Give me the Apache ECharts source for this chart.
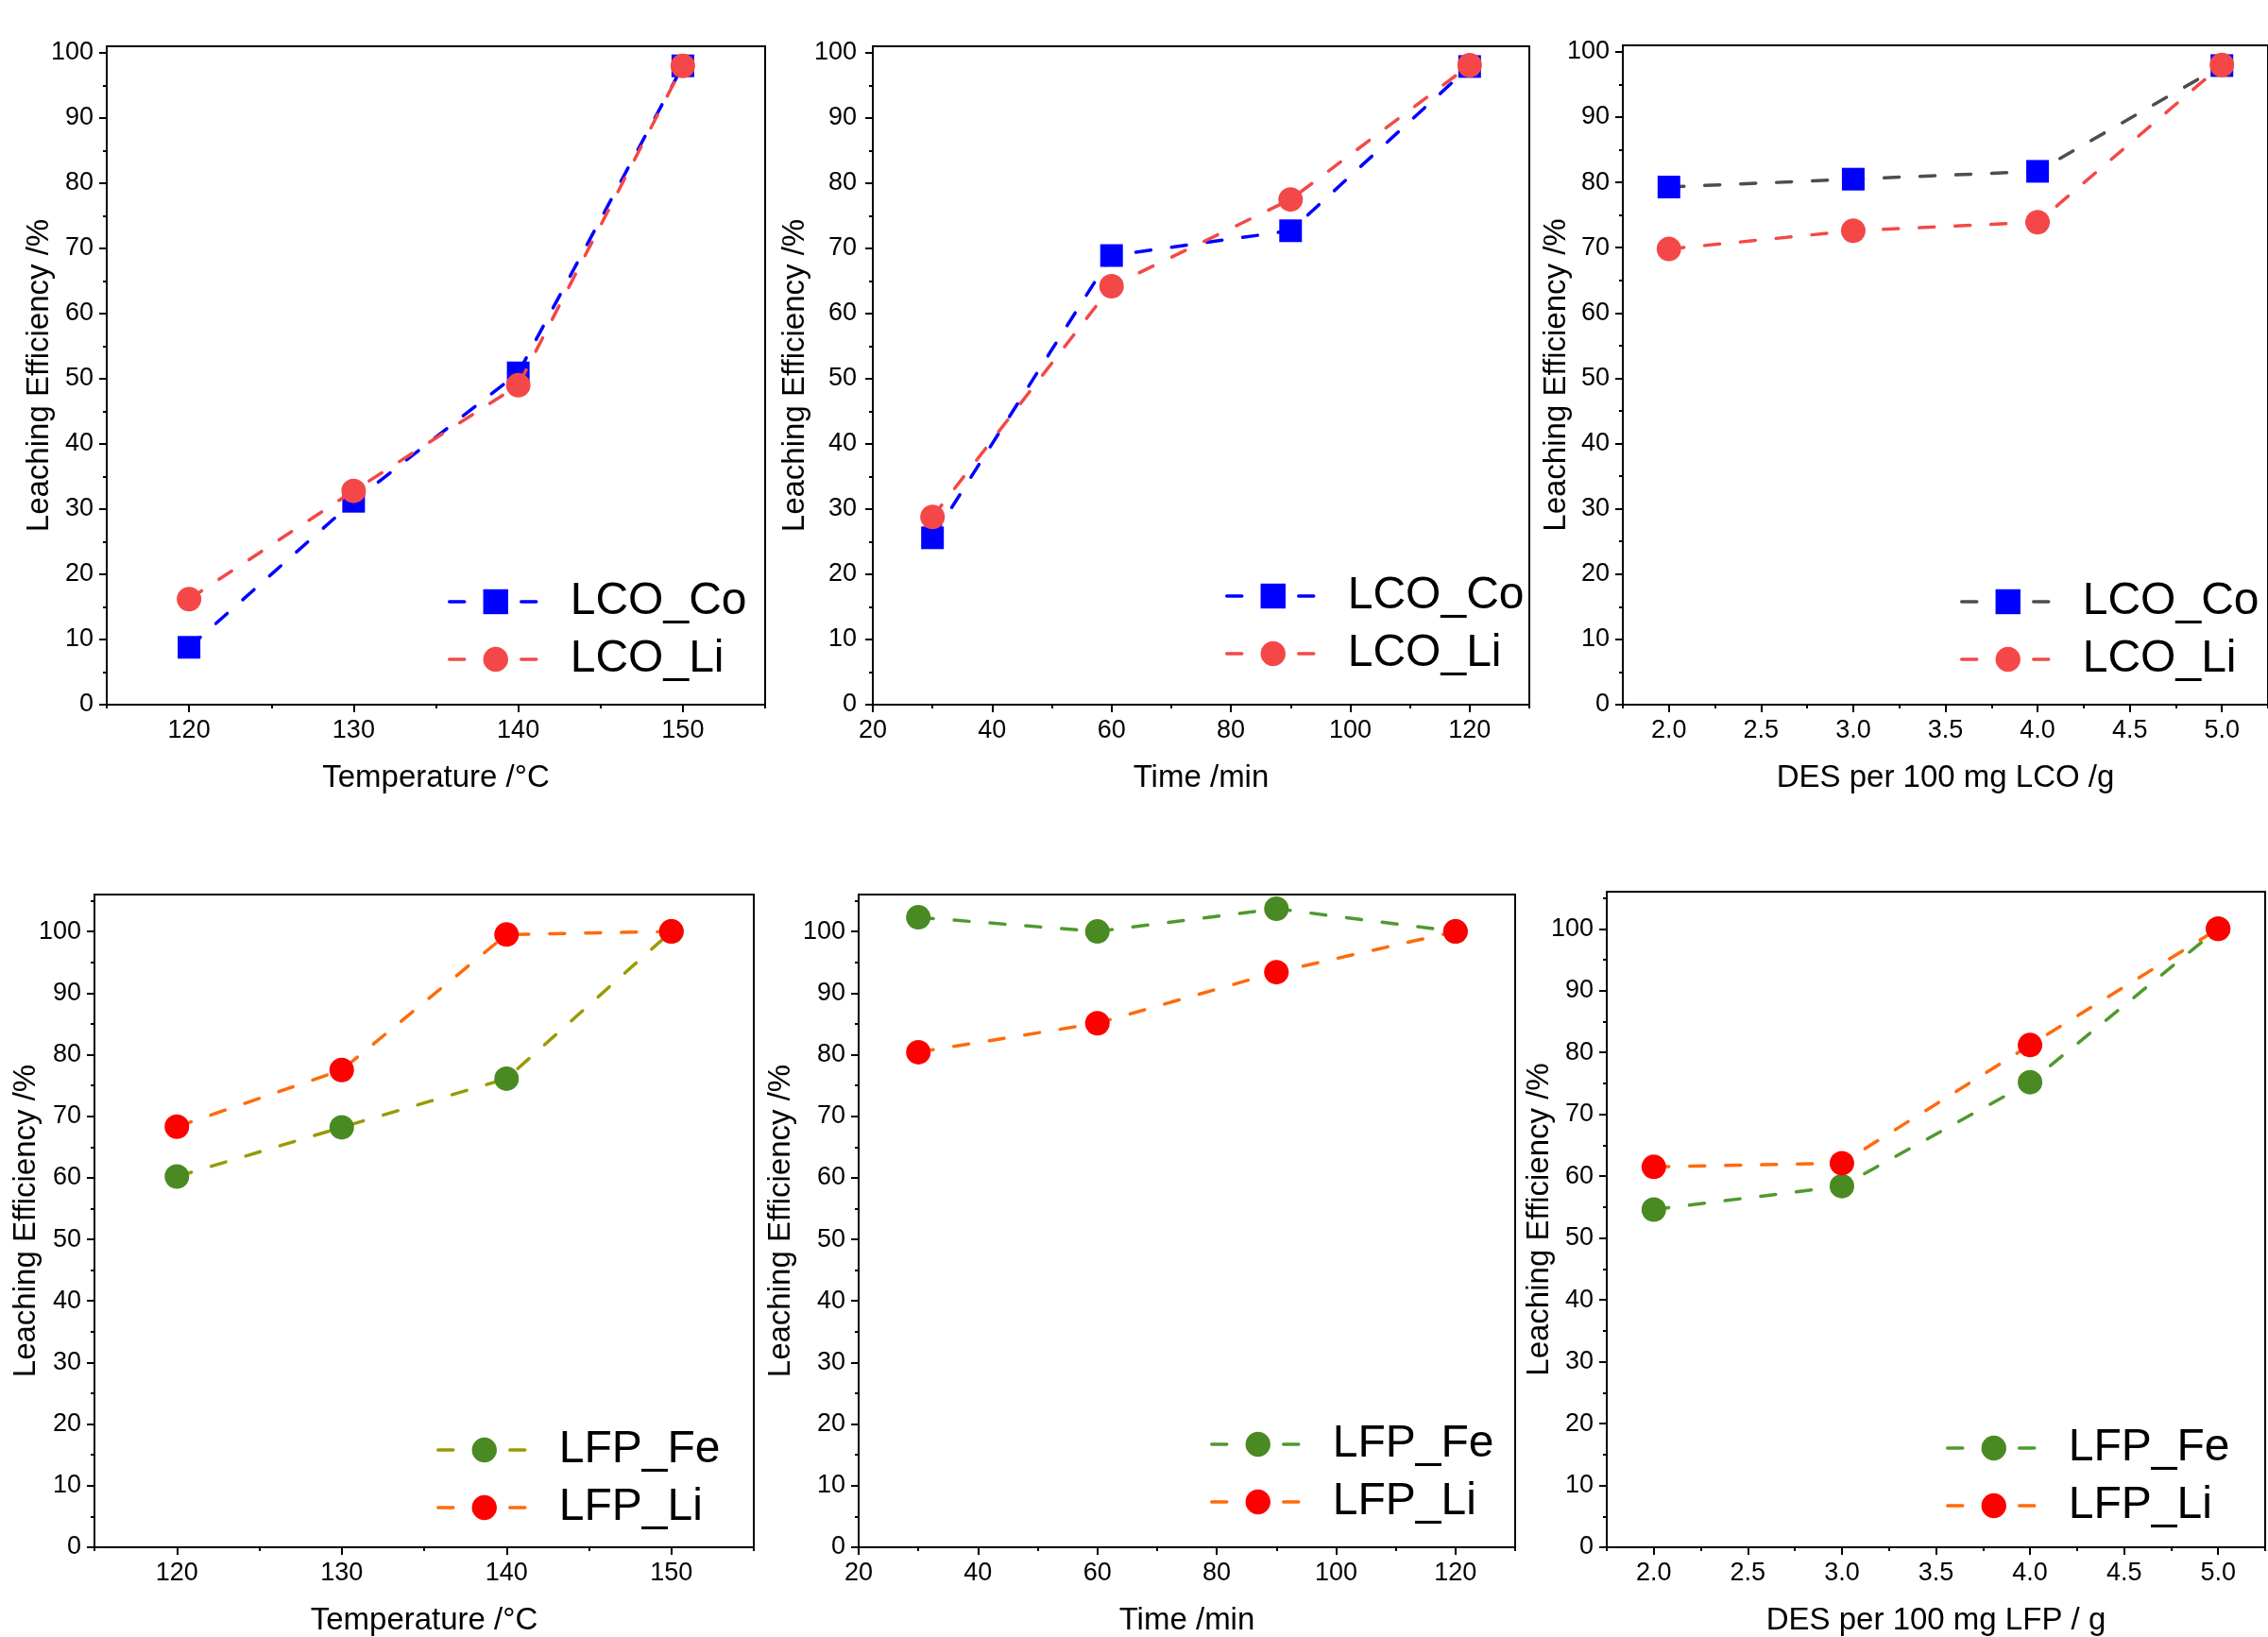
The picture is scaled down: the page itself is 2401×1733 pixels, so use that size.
<!DOCTYPE html>
<html>
<head>
<meta charset="utf-8">
<script src="https://cdn.jsdelivr.net/npm/echarts@6/dist/echarts.min.js"></script>
<style>
html, body { margin: 0; padding: 0; background: #fff; }
#leaching { width: 2401px; height: 1733px; }
</style>
</head>
<body>
<div id="leaching"></div>
<script>
// x values for each condition
var tempX = [120, 130, 140, 150]
var timeX = [30, 60, 90, 120]
var desX = [2, 3, 4, 5]

// leaching efficiency (%)
var lcoCoTemp = [8.8, 31.2, 50.9, 98.0]
var lcoLiTemp = [16.2, 32.8, 49.0, 98.0]
var lcoCoTime = [25.6, 68.9, 72.7, 97.9]
var lcoLiTime = [28.8, 64.2, 77.5, 98.1]
var lcoCoDes = [79.3, 80.5, 81.7, 97.9]
var lcoLiDes = [69.8, 72.6, 73.9, 98.0]
var lfpFeTemp = [60.2, 68.2, 76.1, 100.0]
var lfpLiTemp = [68.3, 77.5, 99.5, 100.0]
var lfpFeTime = [102.3, 100.0, 103.7, 100.0]
var lfpLiTime = [80.4, 85.1, 93.4, 100.0]
var lfpFeDes = [54.6, 58.4, 75.2, 100.0]
var lfpLiDes = [61.5, 62.1, 81.2, 100.0]

// tick values
var yMajor = [0, 10, 20, 30, 40, 50, 60, 70, 80, 90, 100]
var yMinorTop = [5, 15, 25, 35, 45, 55, 65, 75, 85, 95]
var yMinorBottom = [5, 15, 25, 35, 45, 55, 65, 75, 85, 95, 105]
var tempMajor = [120, 130, 140, 150]
var tempMinor = [115, 125, 135, 145, 155]
var timeMajor = [20, 40, 60, 80, 100, 120]
var timeMinor = [30, 50, 70, 90, 110, 130]
var desMajor = [2, 2.5, 3, 3.5, 4, 4.5, 5]
var desMinor = [1.75, 2.25, 2.75, 3.25, 3.75, 4.25, 4.75, 5.25]

var FONT = 'Liberation Sans, Arial, sans-serif'
var yName = 'Leaching Efficiency /%'
var dash = [16, 22]

function pairs (xs, ys) {
  return xs.map(function (x, i) { return [x, ys[i]] })
}

function xAxes (g, min, max, major, minor, name, fmt) {
  return [{
    type: 'value', gridIndex: g, min: min, max: max, position: 'bottom',
    name: name, nameLocation: 'middle', nameGap: 61,
    nameTextStyle: { fontSize: 33, color: '#000', fontFamily: FONT },
    axisLine: { show: true, onZero: false, lineStyle: { color: '#000', width: 2 } },
    axisTick: { show: true, customValues: major, length: 8, lineStyle: { color: '#000', width: 2 } },
    axisLabel: { customValues: major, fontSize: 27, color: '#000', fontFamily: FONT, margin: 14, formatter: fmt },
    splitLine: { show: false }
  }, {
    type: 'value', gridIndex: g, min: min, max: max, position: 'bottom',
    axisLine: { show: false, onZero: false },
    axisTick: { show: true, customValues: minor, length: 4, lineStyle: { color: '#000', width: 2 } },
    axisLabel: { show: false },
    splitLine: { show: false }
  }]
}

function yAxes (g, max, minor, nameGap, margin) {
  return [{
    type: 'value', gridIndex: g, min: 0, max: max, position: 'left',
    name: yName, nameLocation: 'middle', nameGap: nameGap, nameMoveOverlap: false,
    nameTextStyle: { fontSize: 33, color: '#000', fontFamily: FONT },
    axisLine: { show: true, onZero: false, lineStyle: { color: '#000', width: 2 } },
    axisTick: { show: true, customValues: yMajor, length: 8, lineStyle: { color: '#000', width: 2 } },
    axisLabel: { customValues: yMajor, fontSize: 27, color: '#000', fontFamily: FONT, margin: margin },
    splitLine: { show: false }
  }, {
    type: 'value', gridIndex: g, min: 0, max: max, position: 'left',
    axisLine: { show: false, onZero: false },
    axisTick: { show: true, customValues: minor, length: 4, lineStyle: { color: '#000', width: 2 } },
    axisLabel: { show: false },
    splitLine: { show: false }
  }]
}

function line (g, name, data, symbol, size, markerColor, lineColor, z) {
  return {
    type: 'line', name: name + '#' + g,
    xAxisIndex: g * 2, yAxisIndex: g * 2,
    data: data, symbol: symbol, symbolSize: size, clip: false, z: z,
    itemStyle: { color: markerColor, borderWidth: 0 },
    lineStyle: { color: lineColor, width: 3.5, type: dash, cap: 'round' },
    emphasis: { disabled: true }
  }
}

function legend (g, left, top) {
  return {
    orient: 'vertical', left: left, top: top, padding: 0,
    itemWidth: 98, itemHeight: 33, itemGap: 13, selectedMode: false,
    data: series.filter(function (s) { return s.xAxisIndex === g * 2 }).map(function (s) { return s.name }),
    formatter: function (n) { return n.split('#')[0] },
    lineStyle: { width: 3.5 },
    textStyle: { fontSize: 48, lineHeight: 48, color: '#000', fontFamily: FONT, padding: [0, 0, 0, 25] }
  }
}

var grids = [
  { left: 113, top: 49, width: 697, height: 697 },
  { left: 924, top: 49, width: 695, height: 697 },
  { left: 1718, top: 48, width: 696, height: 698 },
  { left: 100, top: 947, width: 698, height: 697 },
  { left: 909, top: 947, width: 695, height: 697 },
  { left: 1701, top: 944, width: 697, height: 698 }
].map(function (g) {
  return Object.assign({ show: true, borderColor: '#000', borderWidth: 2, backgroundColor: 'transparent' }, g)
})

var fix1 = function (v) { return v.toFixed(1) }

var xAxis = [].concat(
  xAxes(0, 115, 155, tempMajor, tempMinor, 'Temperature /°C'),
  xAxes(1, 20, 130, timeMajor, timeMinor, 'Time /min'),
  xAxes(2, 1.75, 5.25, desMajor, desMinor, 'DES per 100 mg LCO /g', fix1),
  xAxes(3, 115, 155, tempMajor, tempMinor, 'Temperature /°C'),
  xAxes(4, 20, 130, timeMajor, timeMinor, 'Time /min'),
  xAxes(5, 1.75, 5.25, desMajor, desMinor, 'DES per 100 mg LFP / g', fix1)
)

var yAxis = [].concat(
  yAxes(0, 101, yMinorTop, 55, 14),
  yAxes(1, 101, yMinorTop, 66, 17),
  yAxes(2, 101, yMinorTop, 54, 14),
  yAxes(3, 106, yMinorBottom, 56, 14),
  yAxes(4, 106, yMinorBottom, 66, 14),
  yAxes(5, 106, yMinorBottom, 55, 14)
)

var blue = '#0000FF'
var lcoRed = '#F44848'
var feGreen = '#4A8A22'
var lfpRed = '#FF0000'
var lfpOrange = '#FF6A0A'

var series = [
  line(0, 'LCO_Co', pairs(tempX, lcoCoTemp), 'rect', 24, blue, blue, 2),
  line(0, 'LCO_Li', pairs(tempX, lcoLiTemp), 'circle', 26, lcoRed, lcoRed, 3),
  line(1, 'LCO_Co', pairs(timeX, lcoCoTime), 'rect', 24, blue, blue, 2),
  line(1, 'LCO_Li', pairs(timeX, lcoLiTime), 'circle', 26, lcoRed, lcoRed, 3),
  line(2, 'LCO_Co', pairs(desX, lcoCoDes), 'rect', 24, blue, '#4D4D4D', 2),
  line(2, 'LCO_Li', pairs(desX, lcoLiDes), 'circle', 26, lcoRed, lcoRed, 3),
  line(3, 'LFP_Fe', pairs(tempX, lfpFeTemp), 'circle', 26, feGreen, '#9A9A00', 2),
  line(3, 'LFP_Li', pairs(tempX, lfpLiTemp), 'circle', 26, lfpRed, lfpOrange, 3),
  line(4, 'LFP_Fe', pairs(timeX, lfpFeTime), 'circle', 26, feGreen, '#4E9A2E', 2),
  line(4, 'LFP_Li', pairs(timeX, lfpLiTime), 'circle', 26, lfpRed, lfpOrange, 3),
  line(5, 'LFP_Fe', pairs(desX, lfpFeDes), 'circle', 26, feGreen, '#4E9A2E', 2),
  line(5, 'LFP_Li', pairs(desX, lfpLiDes), 'circle', 26, lfpRed, lfpOrange, 3)
]

var option = {
  backgroundColor: '#fff',
  animation: false,
  grid: grids,
  xAxis: xAxis,
  yAxis: yAxis,
  legend: [
    legend(0, 474, 613),
    legend(1, 1297, 607),
    legend(2, 2075, 613),
    legend(3, 462, 1511),
    legend(4, 1281, 1505),
    legend(5, 2060, 1509)
  ],
  series: series
}

var chart = echarts.init(document.getElementById('leaching'))
chart.setOption(option)
window.onresize = function () {
  chart.resize()
}
</script>
</body>
</html>
